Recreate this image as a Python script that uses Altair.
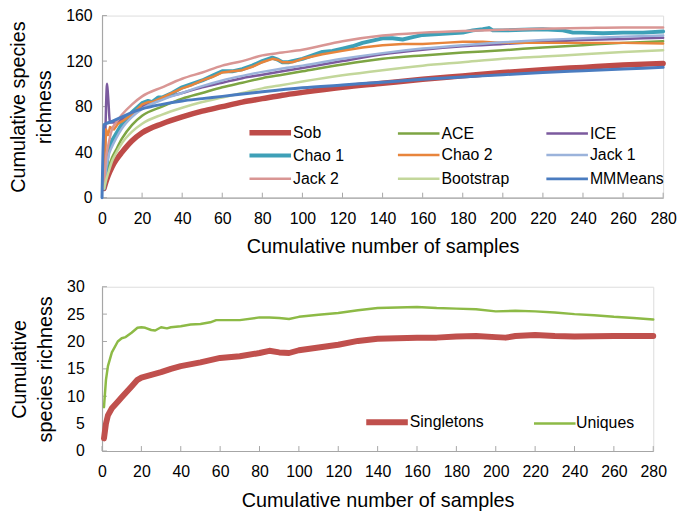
import altair as alt
import pandas as pd

FONT = "Liberation Sans"
AXIS_COLOR = "#A6A6A6"

# ---------------- top panel data ----------------
SERIES = ["Sob", "ACE", "ICE", "Chao 1", "Chao 2", "Jack 1", "Jack 2", "Bootstrap", "MMMeans"]
COLORS = ["#BE4B48", "#7DA543", "#7B5A9E", "#3EA0B7", "#E8853C", "#9BB3DB", "#D99694", "#C3D79B", "#4A7CC0"]
WIDTHS = [5.5, 2.5, 2.5, 4, 2.5, 2.5, 2.5, 2.5, 3]

X_COMMON = [1, 2, 3, 5, 7, 10, 15, 20, 30, 40, 50, 60, 70, 80, 90, 100, 120, 140, 160, 180, 200, 220, 240, 260, 280]
SOB = [8, 14, 19, 27, 33, 40, 50, 57, 65, 71, 76, 80, 84, 87, 90, 92.5, 97, 100.5, 104, 107, 110, 112.5, 114.5, 116.5, 118]
ACE = [8, 18, 25, 35, 42, 52, 64, 72, 80, 87, 92, 97, 101, 105, 108, 111, 117, 122, 125, 127.5, 129.5, 132, 134, 136, 137.5]
JACK1 = [8, 25, 35, 45, 52, 61, 71, 78, 86, 92, 98, 103, 107, 110.5, 113.5, 116, 122, 127, 131, 134, 136.5, 138.5, 140, 141.5, 142.5]
JACK2 = [8, 35, 45, 60, 66, 73, 82, 89, 97, 104.5, 110, 116, 120, 125, 127.5, 130, 137.5, 142.5, 145, 146.5, 147.5, 148.5, 149, 149.5, 149.5]
BOOT = [8, 15, 21, 32, 39, 48, 58, 65, 73, 79, 84, 88, 92, 96, 99, 102, 107.5, 112, 116, 119, 122, 124, 126, 128, 129.5]

X_ICE = [1, 2, 2.5, 3, 4, 7, 10, 15, 20, 30, 40, 50, 60, 70, 80, 90, 100, 120, 140, 160, 180, 200, 220, 240, 260, 280]
ICE = [8, 80, 100, 90, 66, 66, 69, 75, 80, 87, 92, 97, 101, 105, 108, 111, 114, 120, 126, 130, 133, 135, 137, 138.5, 139.5, 140.5]

X_MMM = [0, 1, 2, 5, 10, 15, 20, 30, 40, 50, 60, 80, 100, 120, 140, 160, 180, 200, 220, 240, 260, 280]
MMM = [0, 64, 65, 67, 71, 75, 78, 82, 85, 87, 89, 93, 96.5, 99, 101.5, 104, 106, 108, 110, 111.5, 113, 114.5]

X_CHAO1 = [1, 3, 5, 10, 15, 20, 23, 25, 28, 30, 35, 40, 45, 50, 55, 60, 65, 70, 75, 80, 85, 88, 90, 93, 95,
           100, 105, 110, 115, 120, 125, 130, 135, 140, 145, 150, 155, 160, 170, 180, 185, 190, 193, 195, 200,
           210, 220, 230, 235, 240, 250, 260, 270, 280]
CHAO1 = [8, 40, 50, 65, 75, 83, 85, 84, 88, 88, 92, 97, 100, 103, 107, 111, 111, 113, 116, 120, 123, 121, 119, 119, 120,
         122, 125, 128, 129, 131, 133, 136, 138, 140, 140, 139, 141, 143, 144, 145, 147, 148, 149, 147, 147,
         147.5, 148, 147, 145, 145, 144.5, 145, 145, 146]

X_CHAO2 = [1, 2, 3, 4, 6, 8, 10, 15, 20, 23, 25, 30, 35, 40, 45, 50, 55, 60, 65, 70, 75, 80, 85, 88, 90, 95,
           100, 110, 120, 130, 140, 150, 160, 170, 180, 190, 200, 210, 220, 240, 260, 280]
CHAO2 = [8, 60, 55, 62, 60, 65, 67, 73, 82, 84, 84, 88, 92, 96, 99, 103, 106, 110, 111, 112, 115, 119, 122, 121, 119, 119,
         122, 126, 129, 132, 134, 135, 135, 136, 137, 137, 136, 136, 136, 136, 136, 135.5]

TOP_X_TICKS = list(range(0, 281, 20))
TOP_Y_TICKS = [0, 40, 80, 120, 160]

# ---------------- bottom panel data ----------------
SERIES2 = ["Singletons", "Uniques"]
COLORS2 = ["#C0504D", "#8DBA46"]
WIDTHS2 = [6, 2.5]

X_SING = [1, 2, 3, 5, 8, 10, 15, 18, 20, 25, 30, 35, 40, 50, 60, 70, 80, 85, 90, 95, 100, 110, 120, 130, 140,
          150, 160, 170, 180, 190, 200, 205, 210, 220, 230, 240, 260, 280]
SING = [2.3, 5, 6.5, 7.8, 9, 9.8, 11.8, 13, 13.4, 13.9, 14.4, 15, 15.5, 16.2, 17, 17.3, 17.9, 18.3, 18, 17.9, 18.4,
        18.9, 19.4, 20.1, 20.5, 20.6, 20.7, 20.7, 20.9, 21, 20.8, 20.7, 21, 21.2, 21, 20.9, 21, 21]

X_UNIQ = [1, 2, 3, 5, 8, 10, 12, 15, 18, 20, 22, 25, 27, 30, 33, 35, 40, 45, 50, 55, 58, 62, 70, 80, 85, 90, 95,
          100, 110, 120, 130, 140, 150, 160, 170, 180, 190, 200, 210, 220, 230, 240, 250, 260, 270, 280]
UNIQ = [8, 13, 15.5, 18, 20, 20.6, 20.8, 21.6, 22.5, 22.6, 22.5, 22.1, 22.0, 22.6, 22.4, 22.6, 22.8, 23.1, 23.2, 23.5,
        23.9, 23.9, 23.9, 24.4, 24.4, 24.3, 24.1, 24.5, 24.9, 25.2, 25.7, 26.1, 26.2, 26.3, 26.1, 26.0, 25.9, 25.5,
        25.6, 25.5, 25.3, 25.0, 24.8, 24.5, 24.3, 24.0]

BOT_X_TICKS = list(range(0, 281, 20))
BOT_Y_TICKS = [0, 5, 10, 15, 20, 25, 30]

# ---------------- build tables ----------------
top_src = {
    "Sob": (X_COMMON, SOB), "ACE": (X_COMMON, ACE), "ICE": (X_ICE, ICE),
    "Chao 1": (X_CHAO1, CHAO1), "Chao 2": (X_CHAO2, CHAO2), "Jack 1": (X_COMMON, JACK1),
    "Jack 2": (X_COMMON, JACK2), "Bootstrap": (X_COMMON, BOOT), "MMMeans": (X_MMM, MMM),
}
bot_src = {"Singletons": (X_SING, SING), "Uniques": (X_UNIQ, UNIQ)}


def table(src):
    rows = []
    for s, (xs, ys) in src.items():
        for i, (a, b) in enumerate(zip(xs, ys)):
            rows.append({"series": s, "x": a, "y": b, "i": i})
    return pd.DataFrame(rows)


top_df = table(top_src)
bot_df = table(bot_src)

W1, H1 = 567, 184
W2, H2 = 557, 166


def x_axis(values, width, title_y):
    return alt.Axis(values=values, title="Cumulative number of samples", grid=False, ticks=False, tickSize=0,
                    labelPadding=26, labelBaseline="alphabetic", labelFontSize=16, labelFont=FONT,
                    labelColor="black", labelFlush=False, labelOverlap=False, domainColor=AXIS_COLOR,
                    domainWidth=1.2, titleFont=FONT, titleFontSize=20, titleFontWeight="normal",
                    titleColor="black", titleX=width / 2, titleY=title_y, titleAlign="center",
                    titleBaseline="alphabetic")


def y_axis(values, title, pad, title_x, height):
    return alt.Axis(values=values, title=title, grid=False, ticks=False, tickSize=0, labelPadding=pad,
                    labelFontSize=16, labelFont=FONT, labelColor="black", labelOverlap=False,
                    domainColor=AXIS_COLOR, domainWidth=1.2, titleFont=FONT, titleFontSize=20,
                    titleFontWeight="normal", titleColor="black", titleAngle=270, titleX=title_x,
                    titleY=height / 2, titleAlign="center", titleBaseline="middle", titleLineHeight=26)


def panel(df, series, colors, widths, xdom, ydom, xax, yax, legend, linear_set, xticks, yticks, h):
    xs = alt.Scale(domain=xdom, nice=False, zero=False)
    ys = alt.Scale(domain=ydom, nice=False)
    layers = []
    layers.append(alt.Chart(pd.DataFrame({"x": xticks})).mark_rule(color=AXIS_COLOR, strokeWidth=1).encode(
        x=alt.X("x:Q", scale=xs, axis=xax), y=alt.value(h), y2=alt.value(h - 5)))
    layers.append(alt.Chart(pd.DataFrame({"y": yticks})).mark_rule(color=AXIS_COLOR, strokeWidth=1).encode(
        y=alt.Y("y:Q", scale=ys, axis=yax), x=alt.value(0), x2=alt.value(5)))
    for s in series:
        sub = df[df["series"] == s]
        interp = "linear" if s in linear_set else "monotone"
        layers.append(alt.Chart(sub).mark_line(interpolate=interp, strokeCap="round", strokeJoin="round").encode(
            x=alt.X("x:Q", scale=xs, axis=xax),
            y=alt.Y("y:Q", scale=ys, axis=yax),
            color=alt.Color("series:N", scale=alt.Scale(domain=series, range=colors), legend=legend),
            strokeWidth=alt.StrokeWidth("series:N", scale=alt.Scale(type="ordinal", domain=series, range=widths),
                                        legend=legend),
            order="i:Q",
        ))
    return alt.layer(*layers)


LEG_SYMBOL = "M-2.1,0H2.1"

top_legend = alt.Legend(title=None, orient="none", legendX=146, legendY=105.5, direction="horizontal", columns=3,
                        symbolType=LEG_SYMBOL, symbolSize=400, symbolOffset=11, labelFontSize=16,
                        labelFont=FONT, labelColor="black", labelOffset=10, columnPadding=25, rowPadding=0,
                        gridAlign="all", padding=0)
bot_legend = alt.Legend(title=None, orient="none", legendX=264, legendY=124, direction="horizontal",
                        symbolType=LEG_SYMBOL, symbolSize=400, symbolOffset=11, labelFontSize=16,
                        labelFont=FONT, labelColor="black", labelOffset=10, columnPadding=45, padding=0)

top = panel(top_df, SERIES, COLORS, WIDTHS, [0, 280], [0, 160], x_axis(TOP_X_TICKS, W1, 55),
            y_axis(TOP_Y_TICKS, ["Cumulative species", "richness"], 10, -84, H1), top_legend,
            {"Chao 1", "Chao 2"}, TOP_X_TICKS, TOP_Y_TICKS, H1).properties(width=W1, height=H1)

bottom = panel(bot_df, SERIES2, COLORS2, WIDTHS2, [0, 280], [0, 30], x_axis(BOT_X_TICKS, W2, 56),
               y_axis(BOT_Y_TICKS, ["Cumulative", "species richness"], 18, -83, H2), bot_legend,
               {"Singletons", "Uniques"}, BOT_X_TICKS, BOT_Y_TICKS, H2).properties(width=W2, height=H2)

chart = alt.vconcat(top, bottom, spacing=90, bounds="flush").resolve_scale(
    color="independent", strokeWidth="independent").resolve_legend(
    color="independent", strokeWidth="independent").properties(
    padding={"top": -4, "left": 0, "right": 0, "bottom": 0}).configure_view(
    stroke=None).configure_axis(labelOverlap=False).configure(font=FONT)

chart.save("out.html", embed_options={"renderer": "svg", "actions": False})
